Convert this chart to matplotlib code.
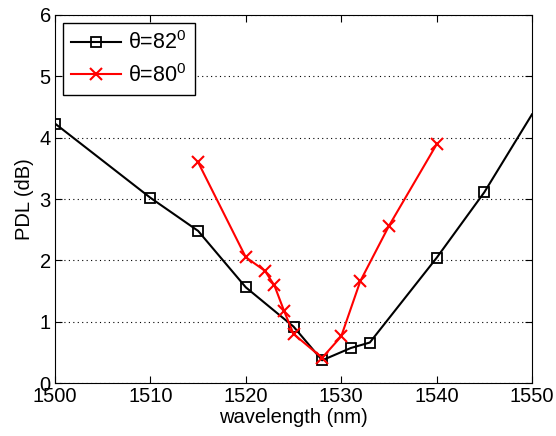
import matplotlib
matplotlib.use("Agg")
import matplotlib.pyplot as plt

plt.rcParams['font.family'] = ['Liberation Sans', 'DejaVu Sans']
plt.rcParams['mathtext.fontset'] = 'custom'
plt.rcParams['mathtext.rm'] = 'Liberation Sans'
plt.rcParams['mathtext.it'] = 'Liberation Sans'

wl_82 = [1500, 1510, 1515, 1520, 1525, 1528, 1531, 1533, 1540, 1545, 1550]
pdl_82 = [4.23, 3.02, 2.48, 1.56, 0.92, 0.37, 0.57, 0.66, 2.04, 3.11, 4.38]

wl_80 = [1515, 1520, 1522, 1523, 1524, 1525, 1528, 1530, 1532, 1535, 1540]
pdl_80 = [3.6, 2.05, 1.83, 1.59, 1.18, 0.8, 0.41, 0.76, 1.66, 2.56, 3.89]

labels = [r'$\theta$=82$^{0}$', r'$\theta$=80$^{0}$']
xticks = [1500, 1510, 1520, 1530, 1540, 1550]
yticks = [0, 1, 2, 3, 4, 5, 6]

fig = plt.figure(figsize=(5.56, 4.36), dpi=100)
ax = fig.add_axes([55/556, 1-383/436, (532-55)/556, (383-15)/436])

ax.plot(wl_82, pdl_82, color='black', lw=1.5, marker='s', ms=7, mfc='none',
        mec='black', mew=1.3, markevery=list(range(len(wl_82)-1)), label=labels[0])
ax.plot(wl_80, pdl_80, color='red', lw=1.5, marker='x', ms=9, mew=1.5,
        label=labels[1])

ax.set_xlim(1500, 1550)
ax.set_ylim(0, 6)
ax.set_xticks(xticks)
ax.set_yticks(yticks)
ax.yaxis.grid(True, linestyle=(0, (1, 3)), color='black', lw=0.8)
ax.tick_params(direction='in', top=True, right=True, labelsize=14.5, length=5, width=0.8, pad=3)
for s in ax.spines.values():
    s.set_linewidth(0.8)
ax.set_xlabel('wavelength (nm)', fontsize=14.5, labelpad=1)
ax.set_ylabel('PDL (dB)', fontsize=14.5, labelpad=4)

leg = ax.legend(loc='upper left', fontsize=15.5, frameon=True, fancybox=False,
                edgecolor='black', framealpha=1, borderaxespad=0.35,
                handlelength=2.3, labelspacing=0.45, handletextpad=0.35,
                borderpad=0.4)
leg.get_frame().set_linewidth(1.0)

fig.savefig('out.png', dpi=100)
